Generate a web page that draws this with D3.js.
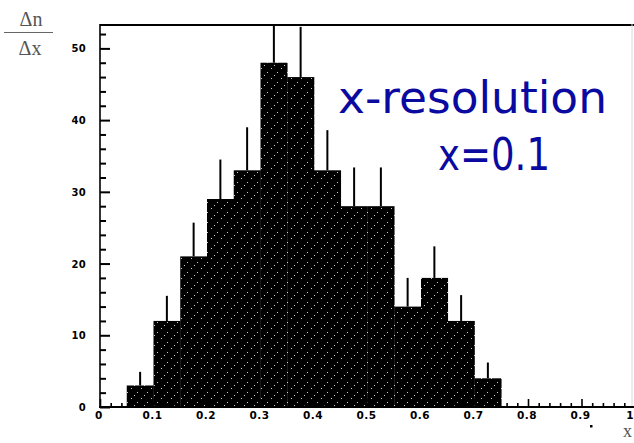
<!DOCTYPE html>
<html><head><meta charset="utf-8">
<script src="https://cdn.jsdelivr.net/npm/d3@7"></script>
<style>html,body{margin:0;padding:0;background:#fff;overflow:hidden}</style>
</head><body>
<script>
// Data
const binStarts = [0.05,0.10,0.15,0.20,0.25,0.30,0.35,0.40,0.45,0.50,0.55,0.60,0.65,0.70];
const binWidth = 0.05;
const counts   = [3,12,21,29,33,48,46,33,28,28,14,18,12,4];
const errors   = [1.9,3.5,4.7,5.5,6.0,7.0,7.0,5.6,5.4,5.4,4.0,4.4,3.6,2.2];
const xTickLabels = ["0","0.1","0.2","0.3","0.4","0.5","0.6","0.7","0.8","0.9","1"];
const yTickLabels = ["0","10","20","30","40","50"];

const W = 634, H = 443;
const svg = d3.select("body").append("svg").attr("width", W).attr("height", H);

const x = d3.scaleLinear().domain([0, 1]).range([100, 635]);
const y = d3.scaleLinear().domain([0, 53.4]).range([407, 24]);

const defs = svg.append("defs");
const pat = defs.append("pattern").attr("id","dots").attr("patternUnits","userSpaceOnUse")
  .attr("width", 10).attr("height", 10);
pat.append("rect").attr("width",10).attr("height",10).attr("fill","#000");
[[1,8],[4,5],[7,2]].forEach(p=>{
  pat.append("rect").attr("x",p[0]).attr("y",p[1]).attr("width",1).attr("height",1)
    .attr("fill","#fff").attr("opacity",0.8).attr("shape-rendering","crispEdges");
});
defs.append("clipPath").attr("id","plotclip").append("rect")
  .attr("x", x(0)).attr("y", y(53.4)).attr("width", W - x(0)).attr("height", y(0) - y(53.4));

const g = svg.append("g").attr("clip-path","url(#plotclip)");

// bars
g.selectAll("rect.bar").data(counts).enter().append("rect")
  .attr("class","bar")
  .attr("x", (d,i)=>x(binStarts[i]))
  .attr("width", (d,i)=>x(binStarts[i]+binWidth)-x(binStarts[i])+0.3)
  .attr("y", d=>y(d))
  .attr("height", d=>y(0)-y(d))
  .attr("fill","url(#dots)");

// error bars
g.selectAll("line.err").data(counts).enter().append("line")
  .attr("class","err")
  .attr("x1",(d,i)=>x(binStarts[i]+binWidth/2)).attr("x2",(d,i)=>x(binStarts[i]+binWidth/2))
  .attr("y1",(d,i)=>y(d)).attr("y2",(d,i)=>y(d+errors[i]))
  .attr("stroke","#000").attr("stroke-width",2);

// frame
svg.append("line").attr("x1",x(0)).attr("x2",W).attr("y1",y(53.4)+1).attr("y2",y(53.4)+1)
  .attr("stroke","#000").attr("stroke-width",2.2);
svg.append("line").attr("x1",632).attr("x2",632).attr("y1",y(53.4)).attr("y2",y(0))
  .attr("stroke","#d8d8d8").attr("stroke-width",1);

// y axis
const yAxisG = svg.append("g").attr("transform",`translate(${x(0)},0)`);
yAxisG.call(d3.axisRight(y).tickValues(d3.range(0,54,2)).tickSize(6).tickFormat(""))
  .call(s=>s.select(".domain").remove());
yAxisG.selectAll(".tick line").attr("stroke","#000").attr("stroke-width",2)
  .attr("x2", d => d%10===0 ? 10 : 6);
svg.append("line").attr("x1",x(0)).attr("x2",x(0)).attr("y1",y(53.4)).attr("y2",y(0)+1)
  .attr("stroke","#000").attr("stroke-width",1.6);
svg.selectAll("text.ylab").data(yTickLabels).enter().append("text")
  .attr("class","ylab")
  .attr("x",86).attr("y",d=>y(+d)+4)
  .attr("text-anchor","end")
  .attr("font-family","DejaVu Sans, sans-serif").attr("font-weight","bold")
  .attr("font-size",10).attr("letter-spacing",0.3).attr("fill","#000")
  .text(d=>d);

// x axis
const xAxisG = svg.append("g").attr("transform",`translate(0,${y(0)})`);
xAxisG.call(d3.axisTop(x).tickValues(d3.range(0,51).map(i=>i*0.02)).tickSize(4).tickFormat(""))
  .call(s=>s.select(".domain").remove());
xAxisG.selectAll(".tick line").attr("stroke","#000").attr("stroke-width",1.6)
  .attr("y2", d => Math.abs(Math.round(d*100)%10)===0 ? -8 : -4);
svg.append("line").attr("x1",x(0)-1).attr("x2",W).attr("y1",y(0)).attr("y2",y(0))
  .attr("stroke","#000").attr("stroke-width",2);
svg.selectAll("text.xlab").data(xTickLabels).enter().append("text")
  .attr("class","xlab")
  .attr("x",(d,i)=> i===10 ? 634 : x(i*0.1)-1).attr("y",419)
  .attr("text-anchor",(d,i)=> i===10 ? "end" : "middle")
  .attr("font-family","DejaVu Sans, sans-serif").attr("font-weight","bold")
  .attr("font-size",10.5).attr("letter-spacing",0.5).attr("fill","#000")
  .text(d=>d);

// axis titles
const serif = "Liberation Serif, DejaVu Serif, serif";
svg.append("text").attr("x",31).attr("y",26).attr("text-anchor","middle")
  .attr("font-family",serif).attr("font-size",20).attr("fill","#555").text("Δn");
svg.append("line").attr("x1",4).attr("x2",53).attr("y1",32.5).attr("y2",32.5)
  .attr("stroke","#666").attr("stroke-width",1.2);
svg.append("text").attr("x",30).attr("y",55).attr("text-anchor","middle")
  .attr("font-family",serif).attr("font-size",20).attr("fill","#555").text("Δx");
svg.append("text").attr("x",632).attr("y",437).attr("text-anchor","end")
  .attr("font-family",serif).attr("font-size",18).attr("fill","#555").text("x");
svg.append("rect").attr("x",590).attr("y",425).attr("width",2.5).attr("height",2.5).attr("fill","#000");

// annotation
svg.append("text").attr("x",338).attr("y",113).attr("textLength",269).attr("lengthAdjust","spacingAndGlyphs")
  .attr("font-family","DejaVu Sans, sans-serif").attr("font-size",44).attr("fill","#0a0aa0")
  .text("x-resolution");
svg.append("text").attr("x",438).attr("y",170).attr("textLength",112).attr("lengthAdjust","spacingAndGlyphs")
  .attr("font-family","DejaVu Sans, sans-serif").attr("font-size",44).attr("fill","#0a0aa0")
  .text("x=0.1");
</script>
</body></html>
